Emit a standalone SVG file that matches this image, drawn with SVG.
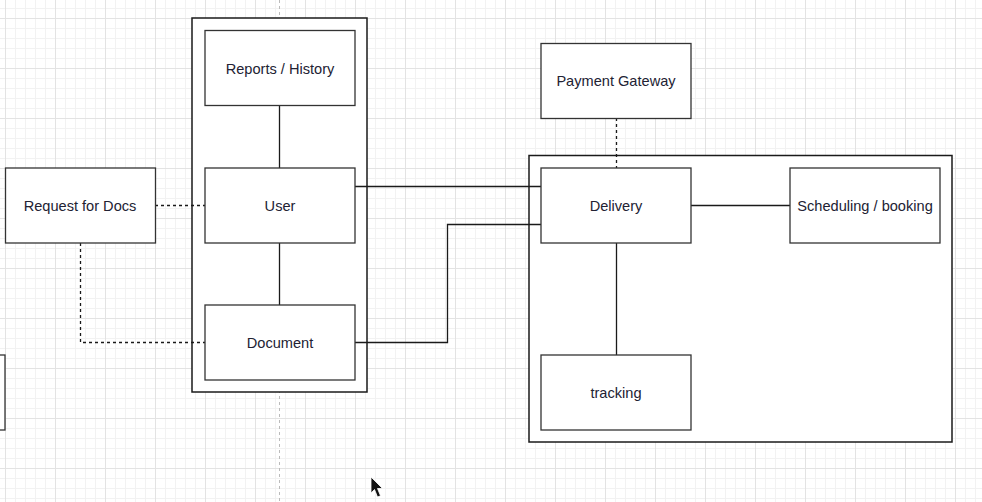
<svg xmlns="http://www.w3.org/2000/svg" width="982" height="502" viewBox="0 0 982 502">
  <defs>
    <pattern id="grid" patternUnits="userSpaceOnUse" x="5" y="18" width="50" height="50">
      <path d="M10.5 0V50M20.5 0V50M30.5 0V50M40.5 0V50M0 10.5H50M0 20.5H50M0 30.5H50M0 40.5H50" stroke="#f2f2f2" stroke-width="1" fill="none"/>
      <path d="M0.5 0V50M0 0.5H50" stroke="#e3e3e3" stroke-width="1" fill="none"/>
    </pattern>
    <style>
      .node { fill: #ffffff; stroke: #333333; stroke-width: 1.3; }
      .outer { fill: #ffffff; stroke: #1a1a1a; stroke-width: 1.5; }
      .lbl { font-family: "Liberation Sans", Arial, sans-serif; font-size: 14.6px; fill: #222233; text-anchor: middle; }
      .edge { fill: none; stroke: #1a1a1a; stroke-width: 1.3; }
      .dash { fill: none; stroke: #1a1a1a; stroke-width: 1.3; stroke-dasharray: 3 3; }
      .guide { fill: none; stroke: #bbbbbb; stroke-width: 1; stroke-dasharray: 3 3; }
    </style>
  </defs>
  <rect x="0" y="0" width="982" height="502" fill="#ffffff"/>
  <rect x="0" y="0" width="982" height="502" fill="url(#grid)"/>
  <line class="guide" x1="279.5" y1="0" x2="279.5" y2="502"/>

  <g id="partial-left">
    <rect class="node" x="-10" y="355" width="15" height="75"/>
  </g>

  <g id="group-user">
    <rect class="outer" x="192" y="18" width="175" height="374"/>
  </g>
  <g id="group-delivery">
    <rect class="outer" x="529" y="155.5" width="423" height="286.5"/>
  </g>

  <g id="connectors">
    <line class="edge" x1="279.5" y1="105" x2="279.5" y2="168"/>
    <line class="edge" x1="279.5" y1="243" x2="279.5" y2="305"/>
    <line class="dash" x1="155" y1="205.5" x2="205" y2="205.5"/>
    <polyline class="dash" points="80.5,243 80.5,342.5 205,342.5"/>
    <line class="edge" x1="355" y1="186.5" x2="541" y2="186.5"/>
    <polyline class="edge" points="355,342.5 447.5,342.5 447.5,224.5 541,224.5"/>
    <line class="dash" x1="616.5" y1="118" x2="616.5" y2="168"/>
    <line class="edge" x1="691" y1="205.5" x2="790" y2="205.5"/>
    <line class="edge" x1="616.5" y1="243" x2="616.5" y2="355"/>
  </g>

  <g id="reports">
    <rect class="node" x="205" y="30.5" width="150" height="75"/>
    <text class="lbl" x="280" y="73.5">Reports / History</text>
  </g>
  <g id="user">
    <rect class="node" x="205" y="168" width="150" height="75"/>
    <text class="lbl" x="280" y="210.5">User</text>
  </g>
  <g id="document">
    <rect class="node" x="205" y="305" width="150" height="75"/>
    <text class="lbl" x="280" y="347.5">Document</text>
  </g>
  <g id="request">
    <rect class="node" x="5.5" y="168" width="150" height="75"/>
    <text class="lbl" x="80" y="210.5">Request for Docs</text>
  </g>
  <g id="payment">
    <rect class="node" x="541" y="43.5" width="150" height="75"/>
    <text class="lbl" x="616" y="86">Payment Gateway</text>
  </g>
  <g id="delivery">
    <rect class="node" x="541" y="168" width="150" height="75"/>
    <text class="lbl" x="616" y="210.5">Delivery</text>
  </g>
  <g id="scheduling">
    <rect class="node" x="790" y="168" width="150" height="75"/>
    <text class="lbl" x="865" y="210.5">Scheduling / booking</text>
  </g>
  <g id="tracking">
    <rect class="node" x="541" y="355" width="150" height="75"/>
    <text class="lbl" x="616" y="397.5">tracking</text>
  </g>

  <g id="cursor">
    <path d="M371 477 L371 493 L374.5 489.5 L377.5 497 L380.5 495.8 L377.5 488.5 L382.5 488.5 Z" fill="#111111" stroke="#ffffff" stroke-width="0.8"/>
  </g>
</svg>
